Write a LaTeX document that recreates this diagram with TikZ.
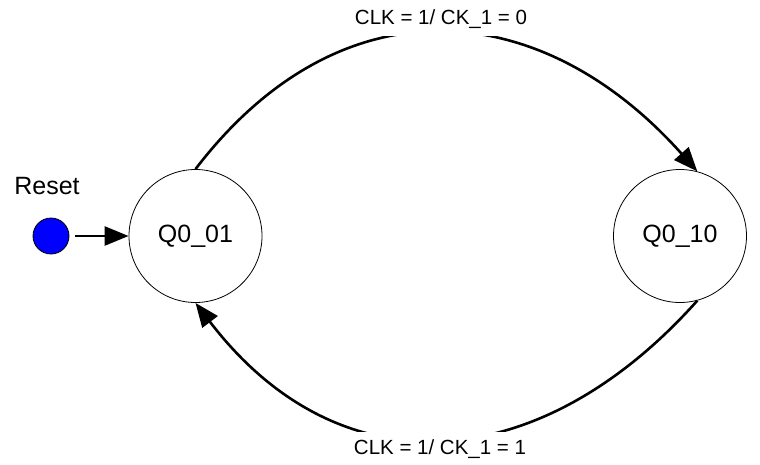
\documentclass[tikz,border=0pt]{standalone}
\usepackage{fontspec}
\setmainfont{Liberation Sans}
\usetikzlibrary{arrows.meta}
\tikzset{
    state/.style={draw, circle, line width=0.8pt, minimum size=133pt, inner sep=0pt, font=\fontsize{25}{30}\selectfont},
    trans/.style={line width=2.6pt, -{Triangle[length=24pt,width=19pt]}},
    translabel/.style={fill=white, minimum height=34pt, inner sep=2pt, font=\fontsize{20.5}{24}\selectfont}
}

\begin{document}
\begin{tikzpicture}[x=1pt, y=-1pt]
        % keep the picture's size
        \useasboundingbox (0,0) rectangle (760,464);
        % draw both states
        \node[state] (s01) at (195.5,236) {Q0\_01};
        \node[state] (s10) at (680,236) {Q0\_10};
        % draw reset point and its label
        \node[draw, circle, fill=blue, line width=0.8pt, minimum size=36pt, inner sep=0pt] (rst) at (51,236) {};
        \node[font=\fontsize{25}{30}\selectfont] (rstlabel) at (47,186) {Reset};
        \draw[trans, shorten <=6pt] (rst) -- (s01);
        % transition from Q0_01 to Q0_10
        \draw[trans] (s01.north) .. controls (340,-20) and (540,-5) .. (s10.75);
        \node[translabel] (up) at (441,19) {CLK = 1/ CK\_1 = 0};
        % transition back from Q0_10 to Q0_01
        \draw[trans] (s10.-75) .. controls (540,477) and (340,492) .. (s01.south);
        \node[translabel] (down) at (440,449) {CLK = 1/ CK\_1 = 1};
    \end{tikzpicture}
\end{document}
